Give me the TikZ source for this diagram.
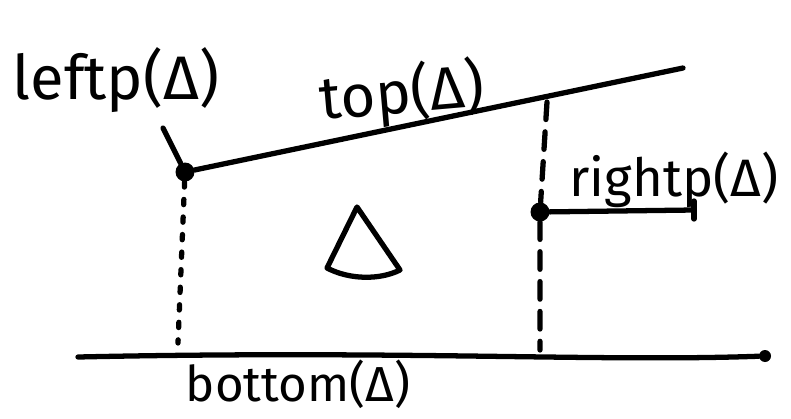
\documentclass[tikz,border=0pt]{standalone}
\usepackage{fontspec}
\setmainfont{Fira Sans}
\usetikzlibrary{positioning}

\begin{document}
\begin{tikzpicture}[
  x=0.02cm, y=-0.02cm,
  ink/.style={line width=3pt, line cap=round, line join=round},
  dot/.style={circle, fill, inner sep=0pt, minimum size=0.38cm},
  guide/.style={ink, dash pattern=on 3pt off 7pt},
  guidelong/.style={ink, dash pattern=on 10pt off 7pt},
  lbl/.style={font=\fontsize{30}{34}\selectfont, inner sep=0pt}
]
\useasboundingbox (0,0) rectangle (791,419);

% ----- points -----
\node[dot] (leftp) at (185,172) {};
\node[dot] (rightp) at (540,212) {};
\node[dot, minimum size=0.24cm] (bend) at (765,356) {};
\coordinate (topend) at (683,68);
\coordinate (bstart) at (78,357);
\coordinate (rend) at (694,210);
\coordinate (lfoot) at (178,343);
\coordinate (rtop) at (547,102);
\coordinate (rfoot) at (540,350);
\coordinate (lptr) at (163,128);

% ----- lines -----
\draw[ink] (leftp) -- (topend);
\draw[ink] (lptr) -- (leftp);
\draw[ink] (rightp) -- (rend);
\draw[ink] ([yshift=0.18cm] rend) -- ([yshift=-0.18cm] rend);
\draw[ink] (bstart) .. controls (400,350) and (600,362) .. (bend);
\draw[guide] (leftp) -- (lfoot);
\draw[guidelong] (rtop) -- (rightp) -- (rfoot);

% ----- the triangle -----
\draw[ink] (357,207) -- (327,268) .. controls (350,280) and (380,280) .. (400,270) -- cycle;

% ----- labels -----
\node[lbl, font=\fontsize{35}{38}\selectfont] (leftplbl) at (116,80) {leftp(Δ)};
\node[lbl, font=\fontsize{34}{38}\selectfont, rotate=5] (toplbl) at (402,94) {top(Δ)};
\node[lbl] (rightplbl) at (674,180) {rightp(Δ)};
\node[lbl, font=\fontsize{28}{32}\selectfont] (bottomlbl) at (298,384) {bottom(Δ)};

\end{tikzpicture}
\end{document}
